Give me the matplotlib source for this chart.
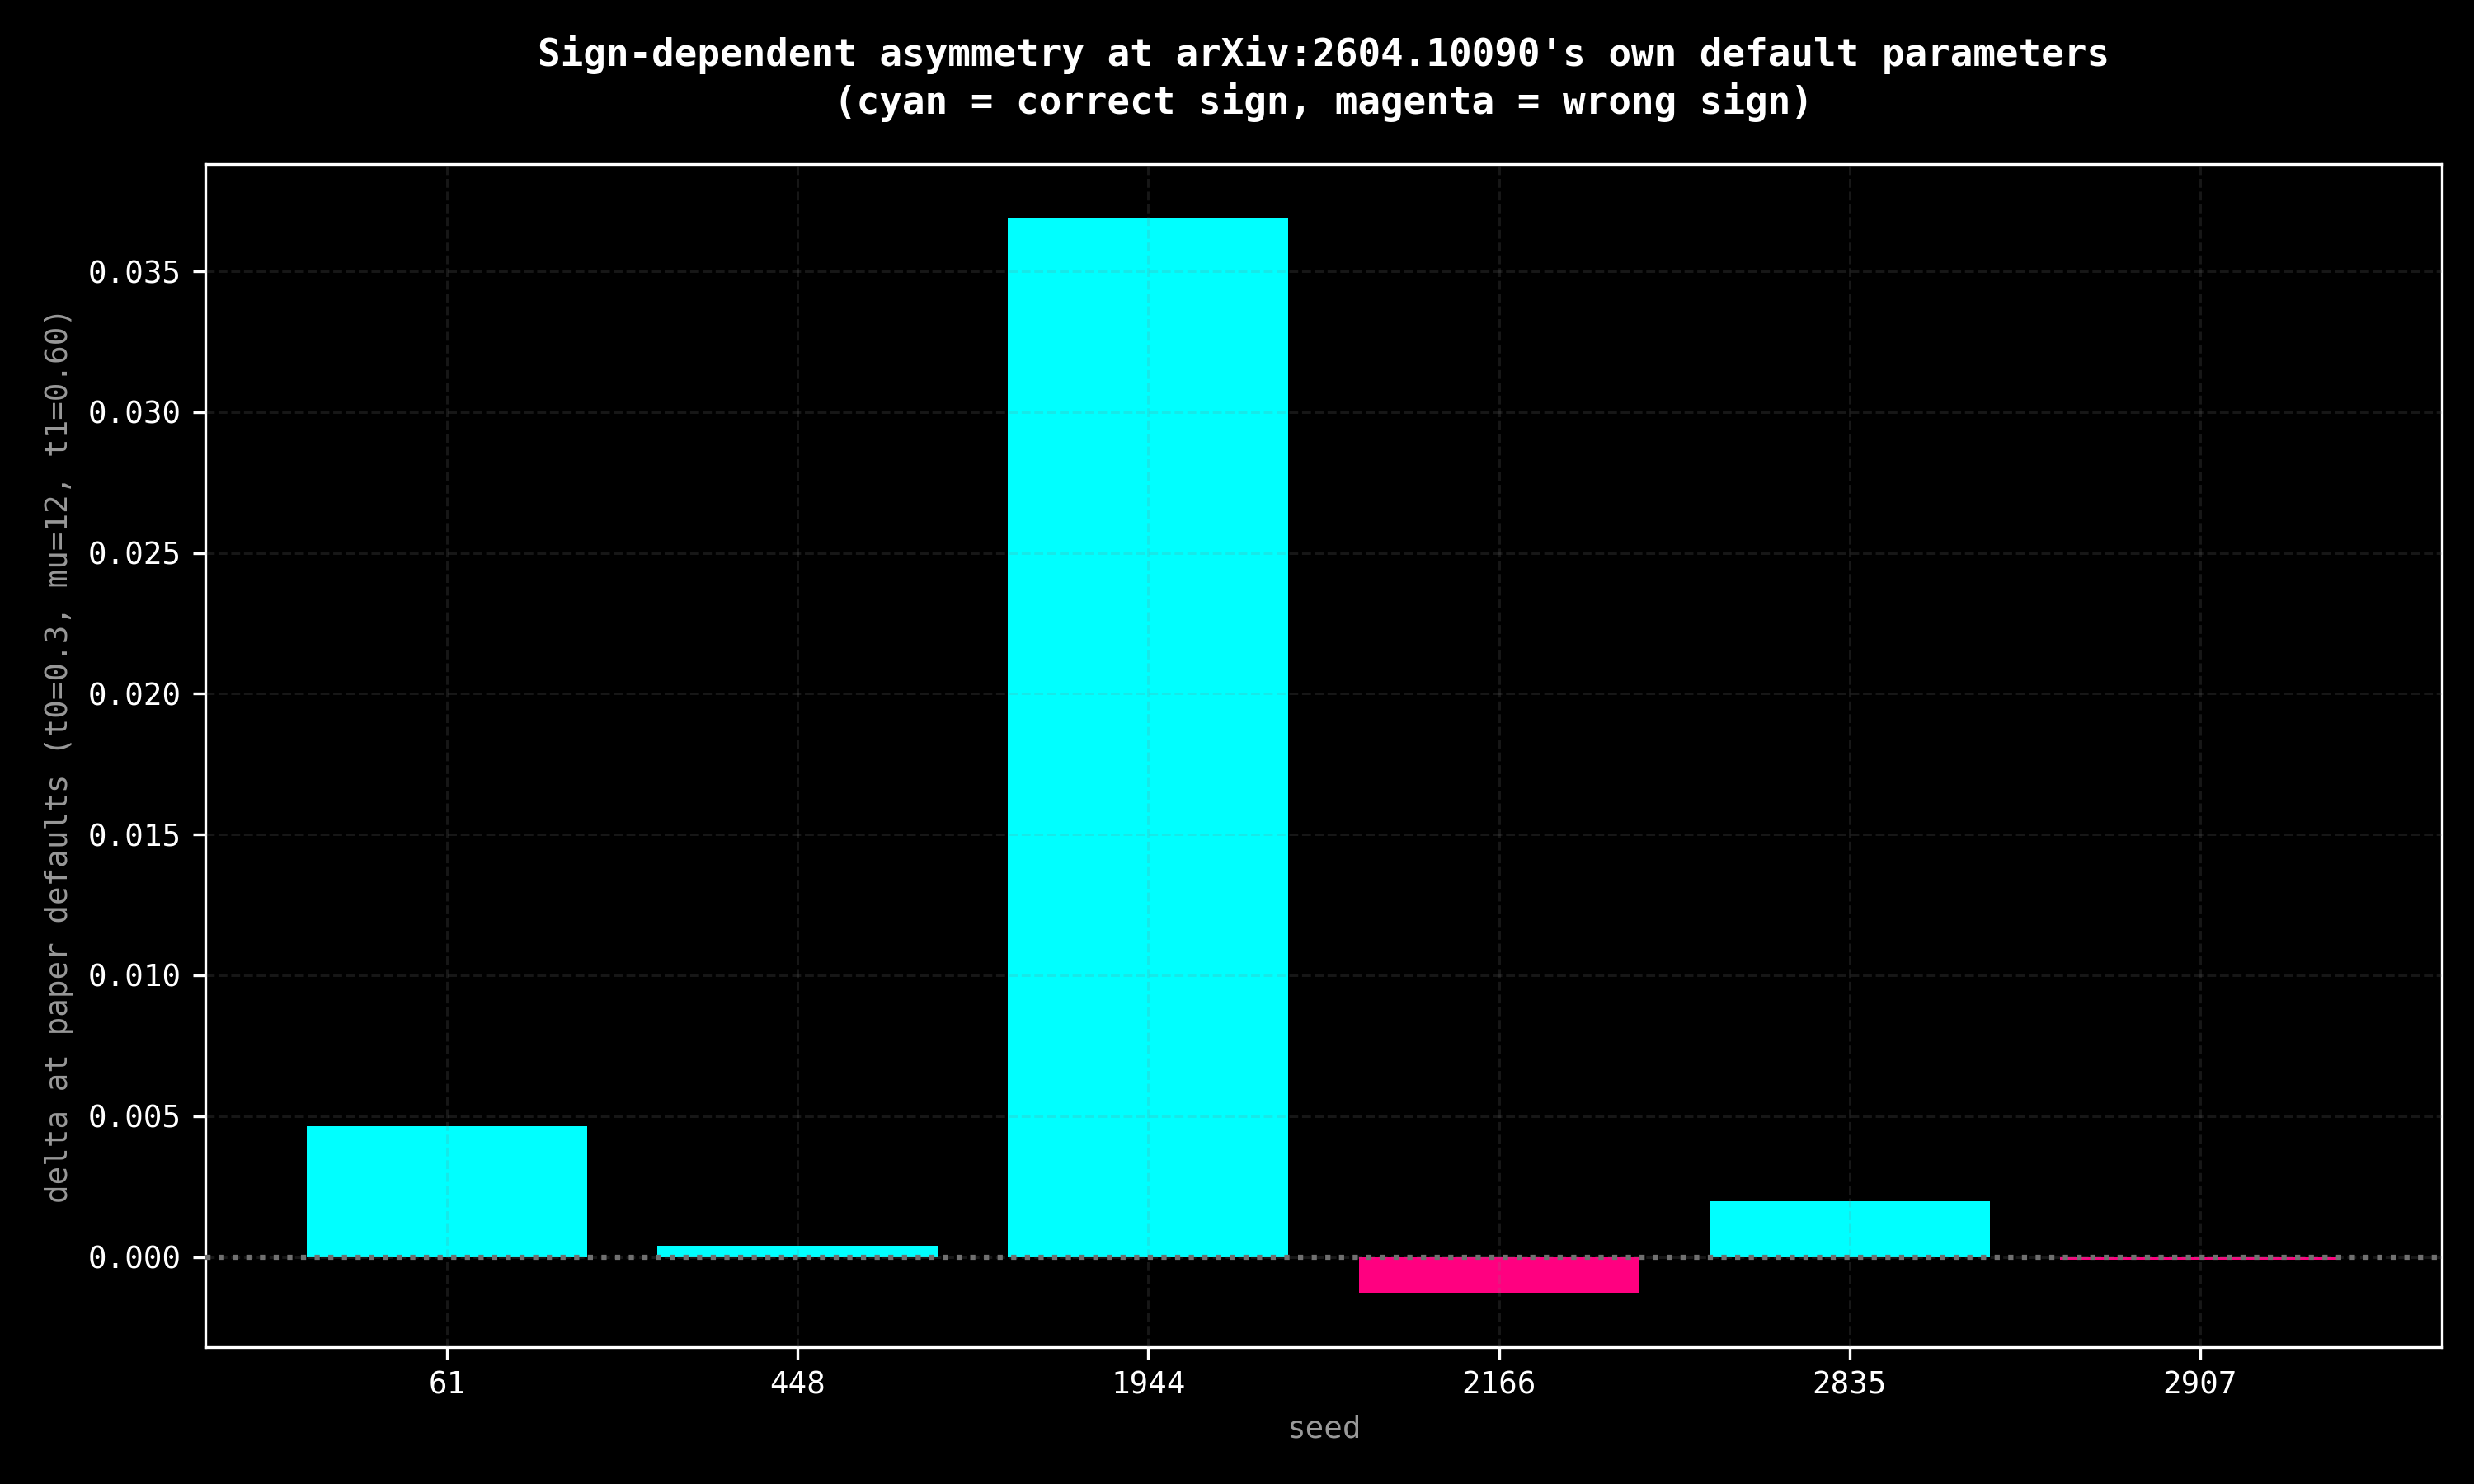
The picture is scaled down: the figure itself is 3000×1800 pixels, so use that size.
import matplotlib

matplotlib.use("Agg")
import matplotlib.pyplot as plt

seeds = ["61", "448", "1944", "2166", "2835", "2907"]
deltas = [0.00465, 0.00040, 0.03690, -0.00128, 0.00197, -0.00010]

CYAN = "#00FFFF"
MAGENTA = "#FF0080"

plt.rcParams["font.family"] = ["DejaVu Sans Mono", "DejaVu Sans"]


def main():
    fig, ax = plt.subplots(figsize=(10, 6))
    fig.patch.set_facecolor("black")
    ax.set_facecolor("black")

    colors = [CYAN if d > 0 else MAGENTA for d in deltas]
    ax.bar(seeds, deltas, color=colors, width=0.8, zorder=1)
    ax.axhline(0, color="#707070", linestyle=":", linewidth=1.5, zorder=3)

    ax.grid(True, color="#808080", linestyle="--", linewidth=0.7, alpha=0.18, zorder=2)
    ax.set_axisbelow(False)

    ax.set_title(
        "Sign-dependent asymmetry at arXiv:2604.10090's own default parameters\n"
        "(cyan = correct sign, magenta = wrong sign)",
        color="white",
        fontsize=11,
        fontweight="bold",
        pad=14.5,
        linespacing=1.27,
    )
    ax.set_xlabel("seed", color="#999999", fontsize=9)
    ax.set_ylabel("delta at paper defaults (t0=0.3, mu=12, t1=0.60)", color="#999999", fontsize=9)
    ax.tick_params(colors="white", labelsize=9)
    for spine in ax.spines.values():
        spine.set_color("white")
    ax.yaxis.set_major_formatter(matplotlib.ticker.FormatStrFormatter("%.3f"))

    fig.subplots_adjust(left=0.083, right=0.987, top=0.8895, bottom=0.0925)
    fig.savefig("out.png", dpi=300, facecolor="black")
    plt.close(fig)


if __name__ == "__main__":
    main()
